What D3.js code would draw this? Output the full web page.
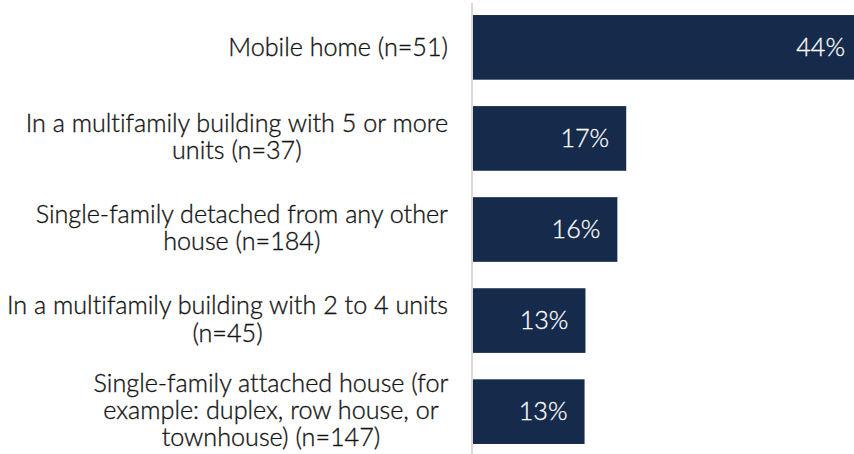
<!DOCTYPE html>
<html>
<head>
<meta charset="utf-8">
<script src="https://cdn.jsdelivr.net/npm/d3@7"></script>
<style>
  html, body { margin: 0; padding: 0; background: #fff; }
  svg { display: block; }
  text { font-variant-ligatures: none; font-feature-settings: "liga" 0; }
</style>
</head>
<body>
<svg id="chart" width="854" height="454"></svg>
<script>
// Data
const categories = [
  ["Mobile home (n=51)"],
  ["In a multifamily building with 5 or more", "units (n=37)"],
  ["Single-family detached from any other", "house (n=184)"],
  ["In a multifamily building with 2 to 4 units", "(n=45)"],
  ["Single-family attached house (for", "example: duplex, row house, or", "townhouse) (n=147)"]
];
const values = [44, 17.4, 16.4, 12.8, 12.7];

const W = 854, H = 454;
const axisX = 472;
const FONT = "Lato, 'Open Sans', sans-serif";
const WEIGHT = 300;
const barColor = "#162a4b";
const textColor = "#141414";

const svg = d3.select("#chart");
const keys = categories.map((c, i) => i);

const x = d3.scaleLinear().domain([0, 44]).range([axisX, 862]);
const y = d3.scaleBand().domain(keys).range([0, 459]).paddingInner(0.29).paddingOuter(0.165);

// font size fitted to the label lines
const probe = svg.append("text").attr("font-family", FONT).attr("font-weight", WEIGHT).attr("font-size", 20)
  .text("In a multifamily building with 2 to 4 units");
const fs = 436 / probe.node().getComputedTextLength() * 20 * 1.012;
probe.remove();
const lh = 27.3;

// bars
svg.append("g").selectAll("rect").data(values).join("rect")
  .attr("x", x(0))
  .attr("y", (d, i) => y(i))
  .attr("width", d => x(d) - x(0))
  .attr("height", y.bandwidth())
  .attr("fill", barColor);

// axis line
svg.append("line")
  .attr("x1", axisX).attr("x2", axisX)
  .attr("y1", 3).attr("y2", H)
  .attr("stroke", "#d9d9d9").attr("stroke-width", 2);

// value labels
svg.append("g").selectAll("text").data(values).join("text")
  .attr("x", d => x(d) - 17)
  .attr("y", (d, i) => y(i) + y.bandwidth() / 2)
  .attr("dy", "0.33em")
  .attr("text-anchor", "end")
  .attr("font-family", FONT)
  .attr("font-weight", WEIGHT)
  .attr("font-size", fs)
  .attr("fill", "#ffffff")
  .attr("stroke", "#ffffff")
  .attr("stroke-width", 0.3)
  .text(d => Math.round(d) + "%");

// category labels
const labelRight = 448;
const lg = svg.append("g");
categories.forEach((lines, i) => {
  const t = lg.append("text")
    .attr("font-family", FONT)
    .attr("font-weight", WEIGHT)
    .attr("font-size", fs)
    .attr("fill", textColor)
    .attr("stroke", textColor)
    .attr("stroke-width", 0.35)
    .attr("text-anchor", "middle");
  const spans = lines.map((ln, j) => t.append("tspan").text(ln));
  let maxW = 0;
  spans.forEach(s => { maxW = Math.max(maxW, s.node().getComputedTextLength()); });
  const cx = labelRight - maxW / 2;
  const cy = y(i) + y.bandwidth() / 2;
  const n = lines.length;
  spans.forEach((s, j) => {
    s.attr("x", cx)
     .attr("y", cy + (j - (n - 1) / 2) * lh)
     .attr("dy", n > 1 ? "0.29em" : "0.36em");
  });
});
</script>
</body>
</html>
